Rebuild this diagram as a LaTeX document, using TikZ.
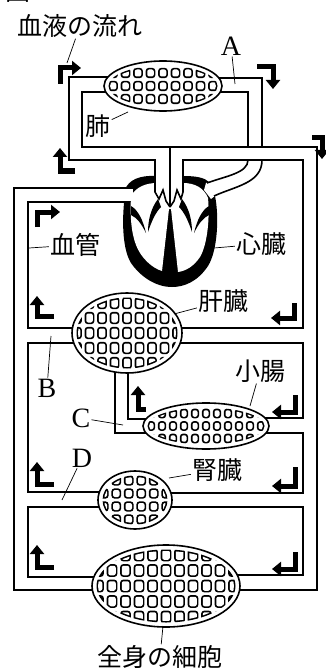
\documentclass[tikz,border=0pt]{standalone}
\usepackage{fontspec}
\setmainfont{Liberation Serif}
\newfontfamily\jpfont{Noto Sans CJK JP}
\usetikzlibrary{arrows.meta}

% organ: centre x, centre y, x radius, y radius, cell pitch x, cell pitch y, columns, rows
\newcommand{\organ}[8]{%
  \fill[white] (#1,#2) ellipse [x radius=#3pt, y radius=#4pt];
  \begin{scope}
    \clip (#1,#2) ellipse [x radius=#3pt-4.5pt, y radius=#4pt-4.5pt];
    \foreach \i in {1,...,#7} \foreach \j in {1,...,#8} {
      \pgfmathsetmacro\px{#1+(\i-(#7+1)/2)*#5}
      \pgfmathsetmacro\py{#2+(\j-(#8+1)/2)*#6}
      \fill[rounded corners=3pt] (\px-#5/2+1.4,\py-#6/2+1.4) rectangle (\px+#5/2-1.4,\py+#6/2-1.4);
    }
    \clip (#1,#2) ellipse [x radius=#3pt-6.1pt, y radius=#4pt-6.1pt];
    \foreach \i in {1,...,#7} \foreach \j in {1,...,#8} {
      \pgfmathsetmacro\px{#1+(\i-(#7+1)/2)*#5}
      \pgfmathsetmacro\py{#2+(\j-(#8+1)/2)*#6}
      \fill[white,rounded corners=2pt] (\px-#5/2+3,\py-#6/2+3) rectangle (\px+#5/2-3,\py+#6/2-3);
    }
  \end{scope}
  \draw[vessel] (#1,#2) ellipse [x radius=#3pt, y radius=#4pt];}

\begin{document}
\begin{tikzpicture}[x=1pt,y=-1pt,
    vessel/.style={line width=1.6pt, line join=miter},
    flow/.style={line width=5pt, line join=miter, -{Triangle[length=9pt,width=14pt]}},
    lead/.style={line width=0.7pt},
    jlabel/.style={font=\fontsize{25}{28}\selectfont\jpfont, inner sep=1pt},
    letter/.style={font=\fontsize{28}{30}\selectfont, inner sep=1pt}]
    \useasboundingbox (0,0) rectangle (326,671);

    % heart: black wall, white chambers, openings
    \fill (125,190) .. controls (128,180) and (140,175) .. (156,176) -- (184,176)
        .. controls (197,176) and (205,178) .. (209,182) -- (215,196)
        .. controls (219,215) and (218,250) .. (208,266)
        .. controls (198,281) and (185,287) .. (172,287)
        .. controls (155,287) and (140,276) .. (131,263)
        .. controls (123,250) and (122,225) .. (124,203) -- cycle;
    \fill[white] (131,196) .. controls (136,187) and (146,183) .. (157,183) -- (183,183)
        .. controls (195,183) and (204,188) .. (208,198)
        .. controls (210,220) and (207,245) .. (200,257)
        .. controls (194,266) and (186,271) .. (178,272) -- (171,209) -- (169,209) -- (162,271)
        .. controls (152,268) and (141,258) .. (136,245)
        .. controls (131,232) and (130,215) .. (131,196) -- cycle;
    \fill[white] (119,189) rectangle (133,201);
    \fill[white] (156,170) rectangle (182,186);
    \fill[white] (206,183) -- (210,181) -- (216,195) -- (211,199) -- (204,190) -- cycle;
    % valve flaps
    \fill (131,206) .. controls (138,210) and (143,220) .. (146,233) .. controls (141,223) and (137,218) .. (131,215) -- cycle;
    \fill (158,199) .. controls (151,208) and (148,220) .. (148,232) .. controls (152,220) and (156,212) .. (161,207) -- cycle;
    \fill (209,206) .. controls (202,210) and (197,220) .. (194,233) .. controls (199,223) and (203,218) .. (209,215) -- cycle;
    \fill (182,199) .. controls (189,208) and (192,220) .. (192,232) .. controls (188,220) and (184,212) .. (179,207) -- cycle;

    % lung circuit
    \draw[vessel] (115,77) -- (69,77) -- (69,160) -- (155,160) -- (155,192) -- (159,199) -- (163,190) -- (166,201) -- (170,207);
    \draw[vessel] (115,92) -- (82,92) -- (82,147) -- (317,147) -- (317,590) -- (235,590);
    \draw[vessel] (212,78) -- (262,78) -- (262,147);
    \draw[vessel] (212,92) -- (248,92) -- (248,147);
    \draw[vessel] (170,147) -- (170,207);
    \draw[vessel] (248,160) .. controls (248,173) and (226,176) .. (207,183);
    \draw[vessel] (262,160) .. controls (262,183) and (236,186) .. (214,196);

    % body circuit, right side
    \draw[vessel] (170,207) -- (174,201) -- (177,190) -- (181,199) -- (183,192) -- (183,160) -- (303,160) -- (303,328) -- (175,328);
    \draw[vessel] (175,343) -- (303,343) -- (303,418) -- (262,418);
    \draw[vessel] (262,433) -- (303,433) -- (303,493) -- (165,493);
    \draw[vessel] (165,507) -- (303,507) -- (303,575) -- (235,575);
    % body circuit, left side
    \draw[vessel] (126,188) -- (14,188) -- (14,590) -- (100,590);
    \draw[vessel] (125,202) -- (28,202) -- (28,328) -- (80,328);
    \draw[vessel] (80,343) -- (28,343) -- (28,492) -- (105,492);
    \draw[vessel] (105,507) -- (28,507) -- (28,577) -- (100,577);
    % liver to small intestine
    \draw[vessel] (128,365) -- (128,419) -- (150,419);
    \draw[vessel] (115,365) -- (115,433) -- (150,433);

    % organs
    \organ{163}{86}{59}{25}{12.5}{13}{9}{3}
    \organ{127}{333}{55}{40}{12.5}{15}{9}{5}
    \organ{206}{426}{63}{23}{11}{12.5}{11}{3}
    \organ{135}{500}{37}{29}{12.5}{13}{6}{4}
    \organ{166}{586}{74}{41}{13.5}{15.5}{11}{5}

    % direction of flow
    \draw[flow] (60,84) -- (60,68) -- (81,68);
    \draw[flow] (257,67) -- (273,67) -- (273,89);
    \draw[flow] (312,138) -- (322,138) -- (322,159);
    \draw[flow] (75,171) -- (60,171) -- (60,148);
    \draw[flow] (37,227) -- (37,212) -- (60,212);
    \draw[flow] (54,316) -- (37,316) -- (37,296);
    \draw[flow] (294,303) -- (294,318) -- (271,318);
    \draw[flow] (146,409) -- (138,409) -- (138,386);
    \draw[flow] (295,395) -- (295,412) -- (272,412);
    \draw[flow] (54,484) -- (37,484) -- (37,462);
    \draw[flow] (295,467) -- (295,486) -- (272,486);
    \draw[flow] (54,567) -- (37,567) -- (37,545);
    \draw[flow] (295,552) -- (295,569) -- (272,569);

    % labels
    \node[jlabel, anchor=base west] (fig) at (4,1) {図1};
    \node[jlabel] (title) at (80,26) {血液の流れ};
    \node[letter] (a) at (231,46) {A};
    \node[jlabel] (lung) at (98,126) {肺};
    \node[jlabel] (vein) at (75,245) {血管};
    \node[jlabel] (heart) at (261,244) {心臓};
    \node[jlabel] (liver) at (223,301) {肝臓};
    \node[jlabel] (gut) at (260,371) {小腸};
    \node[jlabel] (kidney) at (217,470) {腎臓};
    \node[letter] (b) at (47,388) {B};
    \node[letter] (c) at (81,418) {C};
    \node[letter] (d) at (82,458) {D};
    \node[jlabel] (cells) at (160,657) {全身の細胞};

    % leader lines
    \coordinate (titleend) at (67,63);
    \coordinate (aend) at (235,84);
    \coordinate (lungend) at (128,112);
    \coordinate (veinend) at (29,248);
    \coordinate (heartend) at (214,248);
    \coordinate (liverend) at (174,314);
    \coordinate (gutend) at (250,406);
    \coordinate (kidneyend) at (169,478);
    \coordinate (bend) at (51,336);
    \coordinate (cend) at (123,425);
    \coordinate (dend) at (62,500);
    \coordinate (cellsend) at (163,626);
    \draw[lead] (title) -- (titleend);
    \draw[lead] (a) -- (aend);
    \draw[lead] (lung) -- (lungend);
    \draw[lead] (vein) -- (veinend);
    \draw[lead] (heart) -- (heartend);
    \draw[lead] (liver) -- (liverend);
    \draw[lead] (gut) -- (gutend);
    \draw[lead] (kidney) -- (kidneyend);
    \draw[lead] (b) -- (bend);
    \draw[lead] (c) -- (cend);
    \draw[lead] (d) -- (dend);
    \draw[lead] (cells) -- (cellsend);
\end{tikzpicture}
\end{document}
